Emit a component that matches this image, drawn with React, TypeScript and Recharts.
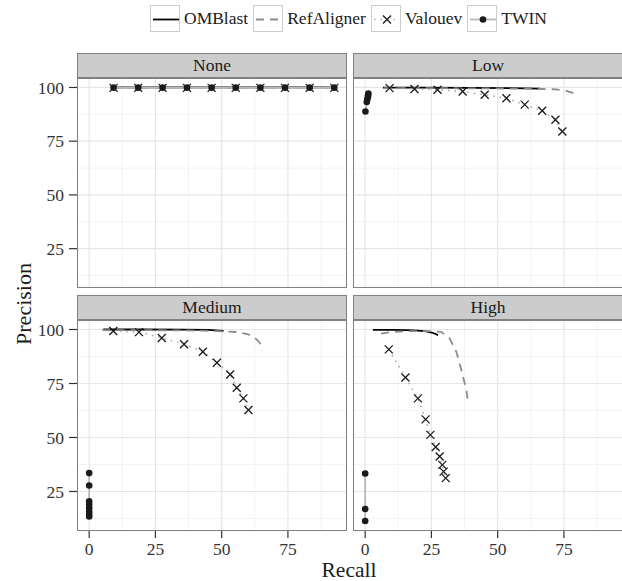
import React from "react";
import { ComposedChart, Line, XAxis, YAxis, ReferenceLine } from "recharts";

type Pt = { x: number; y: number };

const FONT = "'Liberation Serif', 'Times New Roman', serif";

const panelNames = ["None", "Low", "Medium", "High"];
const methodNames = ["OMBlast", "RefAligner", "Valouev", "TWIN"];

const xMajor = [0, 25, 50, 75];
const xMinor = [12.5, 37.5, 62.5, 87.5];
const yMajor = [25, 50, 75, 100];
const yMinor = [12.5, 37.5, 62.5, 87.5];
const xDomain: [number, number] = [-4.6, 97.3];
const yDomain: [number, number] = [6.7, 104.4];

const pts = (xs: number[], ys: number[]): Pt[] => xs.map((x, i) => ({ x, y: ys[i] }));

// None
const noneX = [9.2, 18.5, 27.7, 36.9, 46.2, 55.3, 64.6, 73.9, 83.2, 92.5];
const noneOmblast = pts(noneX, [100, 100, 100, 100, 100, 100, 100, 100, 100, 100]);
const noneRefaligner = pts(noneX, [99.9, 99.9, 99.9, 99.9, 99.9, 99.9, 99.9, 99.9, 99.9, 99.9]);
const noneValouev = pts(noneX, [99.8, 99.8, 99.8, 99.8, 99.8, 99.8, 99.8, 99.8, 99.8, 99.8]);
const noneTwin = pts(noneX, [99.9, 99.9, 99.9, 99.9, 99.9, 99.9, 99.9, 99.9, 99.9, 99.9]);

// Low
const lowOmblast = pts([6.7, 20, 40, 55, 65.9], [99.9, 99.9, 99.8, 99.7, 99.5]);
const lowRefaligner = pts(
  [7, 20, 40, 55, 65, 72, 76, 78.5, 80.4],
  [99.7, 99.7, 99.6, 99.5, 99.4, 99.1, 98.4, 97.4, 95.8]
);
const lowValouev = pts(
  [9.2, 18.6, 27.3, 36.8, 45.1, 53.3, 60.2, 66.8, 71.8, 74.4],
  [99.7, 99.3, 98.9, 98.1, 96.6, 95.0, 92.0, 89.2, 85.0, 79.5]
);
const lowTwin = pts([0.1, 0.6, 0.8, 1.0, 1.1, 1.2], [88.8, 93.2, 94.4, 95.5, 96.4, 97.2]);

// Medium
const mediumOmblast = pts([5.3, 20, 35, 45, 50.7], [100, 100, 99.9, 99.8, 99.4]);
const mediumRefaligner = pts(
  [5, 20, 35, 45, 52, 56, 60, 62.5, 64.3, 65.2],
  [99.7, 99.7, 99.6, 99.4, 99.1, 98.8, 97.8, 96.2, 94, 90.4]
);
const mediumValouev = pts(
  [9.1, 18.8, 27.4, 35.8, 42.9, 48.2, 53.2, 55.7, 58.2, 60.1],
  [99.3, 98.8, 96.1, 93.2, 89.7, 84.6, 79.2, 73.0, 68.1, 62.7]
);
const mediumTwin = pts([0, 0, 0, 0, 0, 0, 0, 0], [33.5, 27.8, 20.4, 18.8, 17.3, 15.9, 14.6, 13.4]);

// High
const highOmblast = pts([2.9, 10, 16, 20, 23, 25.5, 27.5], [99.8, 99.8, 99.7, 99.5, 99.1, 98.5, 97.4]);
const highRefaligner = pts(
  [6, 10, 15, 20, 25, 28.7, 31.9, 34.4, 36.3, 38.2, 38.8],
  [98.1, 98.8, 99.2, 99.3, 99.2, 98.9, 95.8, 89.7, 81.2, 72, 65.8]
);
const highValouev = pts(
  [8.9, 15.2, 19.9, 22.8, 24.6, 26.6, 28.1, 29.1, 29.6, 30.4],
  [90.8, 77.8, 68.1, 58.4, 51.2, 45.6, 41.2, 37.3, 34.2, 31.2]
);
const highTwin = pts([0, 0, 0], [33.3, 16.9, 11.3]);

const panelSeries: Pt[][][] = [
  [noneOmblast, noneRefaligner, noneValouev, noneTwin],
  [lowOmblast, lowRefaligner, lowValouev, lowTwin],
  [mediumOmblast, mediumRefaligner, mediumValouev, mediumTwin],
  [highOmblast, highRefaligner, highValouev, highTwin],
];

const Cross = (props: any) => {
  const { cx, cy } = props;
  if (cx == null || cy == null) return <g key={props.index} />;
  const s = 4;
  return (
    <path
      key={props.index}
      d={`M${cx - s},${cy - s}L${cx + s},${cy + s}M${cx - s},${cy + s}L${cx + s},${cy - s}`}
      stroke="#1a1a1a"
      strokeWidth={1.3}
      fill="none"
    />
  );
};

const Dot = (props: any) => {
  const { cx, cy } = props;
  if (cx == null || cy == null) return <g key={props.index} />;
  return <circle key={props.index} cx={cx} cy={cy} r={3.3} fill="#1a1a1a" />;
};

const PLOT_W = 270;
const LEFT_X = [77, 353];
const TOP_Y = [78, 320];
const PLOT_H = [210, 211];
const STRIP_H = 25;
const Y_AXIS_W = 77;
const X_AXIS_H = 30;

const tickStyle = { fontSize: 17.5, fill: "#333", fontFamily: FONT };

function Panel({ idx }: { idx: number }) {
  const col = idx % 2;
  const row = Math.floor(idx / 2);
  const showY = col === 0;
  const showX = row === 1;
  const [omb, ref, val, twin] = panelSeries[idx];
  const chartLeft = showY ? LEFT_X[col] - Y_AXIS_W : LEFT_X[col];
  const chartW = PLOT_W + (showY ? Y_AXIS_W : 0);
  const chartH = PLOT_H[row] + (showX ? X_AXIS_H : 0);
  return (
    <>
      <div
        style={{
          position: "absolute",
          left: LEFT_X[col],
          top: TOP_Y[row] - STRIP_H,
          width: PLOT_W,
          height: STRIP_H,
          boxSizing: "border-box",
          background: "#cccccc",
          border: "1px solid #808080",
          textAlign: "center",
          fontSize: 17.5,
          lineHeight: `${STRIP_H - 2}px`,
          color: "#1a1a1a",
        }}
      >
        {panelNames[idx]}
      </div>
      <div style={{ position: "absolute", left: chartLeft, top: TOP_Y[row] }}>
        <ComposedChart width={chartW} height={chartH} margin={{ top: 0, right: 0, bottom: 0, left: 0 }}>
          <XAxis
            type="number"
            dataKey="x"
            domain={xDomain}
            allowDataOverflow
            ticks={xMajor}
            interval={0}
            hide={!showX}
            height={X_AXIS_H}
            axisLine={false}
            tickLine={{ stroke: "#333", strokeWidth: 1.2 }}
            tickSize={7}
            tickMargin={5}
            tick={tickStyle}
          />
          <YAxis
            type="number"
            domain={yDomain}
            allowDataOverflow
            ticks={yMajor}
            interval={0}
            hide={!showY}
            width={Y_AXIS_W}
            axisLine={false}
            tickLine={{ stroke: "#333", strokeWidth: 1.2 }}
            tickSize={8}
            tickMargin={5}
            tick={tickStyle}
          />
          {xMinor.map((v) => (
            <ReferenceLine key={`xm${v}`} x={v} stroke="#f3f3f3" strokeWidth={1} />
          ))}
          {yMinor.map((v) => (
            <ReferenceLine key={`ym${v}`} y={v} stroke="#f3f3f3" strokeWidth={1} />
          ))}
          {xMajor.map((v) => (
            <ReferenceLine key={`xM${v}`} x={v} stroke="#e6e6e6" strokeWidth={1.2} />
          ))}
          {yMajor.map((v) => (
            <ReferenceLine key={`yM${v}`} y={v} stroke="#e6e6e6" strokeWidth={1.2} />
          ))}
          <Line data={omb} dataKey="y" type="linear" stroke="#000" strokeWidth={1.8} dot={false} isAnimationActive={false} />
          <Line
            data={ref}
            dataKey="y"
            type="linear"
            stroke="#8c8c8c"
            strokeWidth={1.8}
            strokeDasharray="8 6"
            dot={false}
            isAnimationActive={false}
          />
          <Line
            data={val}
            dataKey="y"
            type="linear"
            stroke="#aaaaaa"
            strokeWidth={1.6}
            strokeDasharray="1.5 5"
            dot={(p: any) => <Cross {...p} key={p.index} />}
            isAnimationActive={false}
          />
          <Line
            data={twin}
            dataKey="y"
            type="linear"
            stroke="#b8b8b8"
            strokeWidth={1.8}
            dot={(p: any) => <Dot {...p} key={p.index} />}
            isAnimationActive={false}
          />
        </ComposedChart>
      </div>
      <div
        style={{
          position: "absolute",
          left: LEFT_X[col],
          top: TOP_Y[row],
          width: PLOT_W,
          height: PLOT_H[row],
          boxSizing: "border-box",
          border: "1px solid #808080",
          pointerEvents: "none",
        }}
      />
    </>
  );
}

function LegendKey({ i }: { i: number }) {
  const w = 30;
  const h = 27;
  const line = [
    <line x1={2} y1={h / 2} x2={w - 2} y2={h / 2} stroke="#000" strokeWidth={1.8} />,
    <line x1={2} y1={h / 2} x2={w - 2} y2={h / 2} stroke="#8c8c8c" strokeWidth={1.8} strokeDasharray="8 6" />,
    <line x1={2} y1={h / 2} x2={w - 2} y2={h / 2} stroke="#aaaaaa" strokeWidth={1.6} strokeDasharray="1.5 5" />,
    <line x1={2} y1={h / 2} x2={w - 2} y2={h / 2} stroke="#b8b8b8" strokeWidth={1.8} />,
  ][i];
  return (
    <svg width={w} height={h} style={{ display: "block", border: "1px solid #cccccc", boxSizing: "border-box", background: "#fff" }}>
      {line}
      {i === 2 && <Cross cx={w / 2} cy={h / 2} index={0} />}
      {i === 3 && <Dot cx={w / 2} cy={h / 2} index={0} />}
    </svg>
  );
}

export default function App() {
  return (
    <div
      style={{
        position: "absolute",
        left: 0,
        top: 0,
        width: 622,
        height: 581,
        overflow: "hidden",
        background: "#fff",
        fontFamily: FONT,
        color: "#1a1a1a",
      }}
    >
      <div style={{ position: "absolute", left: 150, top: 5, display: "flex", alignItems: "center" }}>
        {methodNames.map((m, i) => (
          <div key={m} style={{ display: "flex", alignItems: "center", marginRight: 5 }}>
            <LegendKey i={i} />
            <span style={{ fontSize: 17.5, marginLeft: 4 }}>{m}</span>
          </div>
        ))}
      </div>
      {panelNames.map((_, i) => (
        <Panel key={i} idx={i} />
      ))}
      <div
        style={{
          position: "absolute",
          left: 309,
          width: 80,
          top: 560,
          height: 20,
          textAlign: "center",
          fontSize: 21.5,
          lineHeight: "20px",
        }}
      >
        Recall
      </div>
      <div
        style={{
          position: "absolute",
          left: 24,
          top: 304,
          transform: "translate(-50%, -50%) rotate(-90deg)",
          fontSize: 22,
          lineHeight: "24px",
          whiteSpace: "nowrap",
        }}
      >
        Precision
      </div>
    </div>
  );
}
